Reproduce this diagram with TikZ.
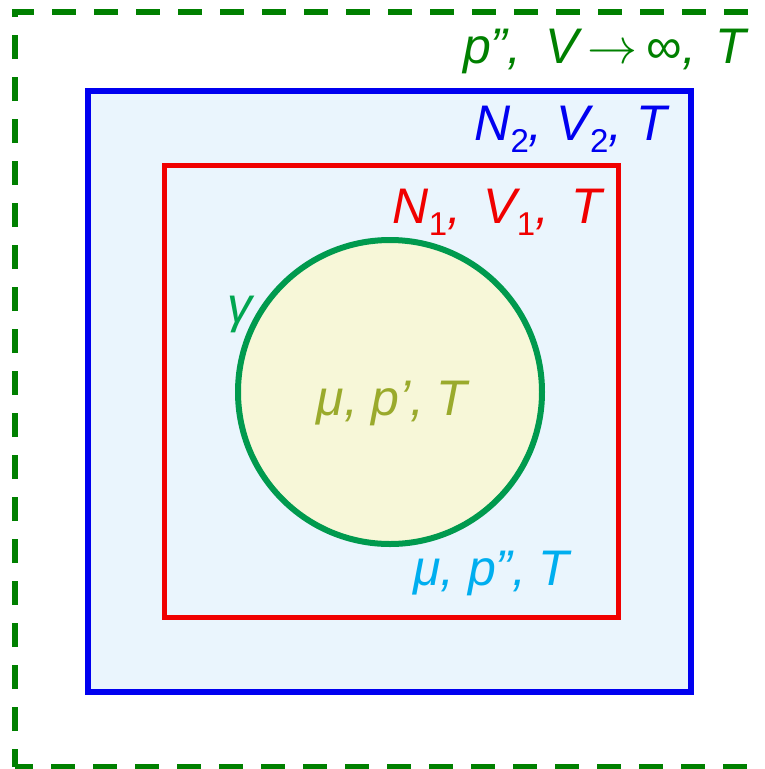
\RequirePackage{fix-cm}
\documentclass[tikz,border=0pt]{standalone}
\usepackage{fontspec}
\setmainfont{Liberation Sans}
\usetikzlibrary{positioning}

\newcommand{\lowidx}[1]{\raisebox{-12pt}{\fontsize{33}{36}\selectfont\upshape #1}}

\begin{document}
\begin{tikzpicture}[x=1pt,y=-1pt,
    lbl/.style={font=\fontsize{50}{60}\selectfont\itshape, inner sep=0pt}]
    \definecolor{bathGreen}{HTML}{008000}
    \definecolor{boxBlue}{HTML}{0000F0}
    \definecolor{boxFill}{HTML}{EAF5FD}
    \definecolor{boxRed}{HTML}{F00000}
    \definecolor{dropGreen}{HTML}{009A4E}
    \definecolor{gammaGreen}{HTML}{00A651}
    \definecolor{dropFill}{HTML}{F7F7D8}
    \definecolor{dropText}{HTML}{9AAA2C}
    \definecolor{gasText}{HTML}{00AEEF}

    \useasboundingbox (0,0) rectangle (765,769);
    % reservoir (open to the right)
    \begin{scope}
        \clip (0,0) rectangle (765,769);
        \draw[bathGreen, line width=6pt, dash pattern=on 24pt off 18pt, dash phase=6pt]
            (15,767) -- (15,12) -- (800,12);
        \draw[bathGreen, line width=6pt, dash pattern=on 24pt off 18pt, dash phase=6pt]
            (15,767) -- (800,767);
    \end{scope}
    % outer and inner boxes
    \draw[boxBlue, line width=6pt, fill=boxFill] (88,91) rectangle (691,692);
    \draw[boxRed, line width=5pt] (164,165) rectangle (618,617);
    % droplet
    \draw[dropGreen, line width=6pt, fill=dropFill] (390,392) circle (152);

    \node[lbl, bathGreen, anchor=base east] (resLbl) at (746,63)
        {p”,\hspace{24pt}V\hspace{9pt}{\upshape$\rightarrow$}\hspace{9pt}{\upshape ∞},\hspace{5pt} T};
    \node[lbl, boxBlue, anchor=base east] (outerLbl) at (667,140)
        {N\lowidx{2}, V\lowidx{2}, T};
    \node[lbl, boxRed, anchor=base east] (innerLbl) at (602,223)
        {N\lowidx{1},\, V\lowidx{1},\, T};
    \node[lbl, gammaGreen, anchor=base] (gammaLbl) at (240,322) {γ};
    \node[lbl, dropText, anchor=base] (dropLbl) at (392,415) {μ, p’,\kern-2pt{} T};
    \node[lbl, gasText, anchor=base] (gasLbl) at (491,585) {μ, p”,\kern-2pt{} T};
\end{tikzpicture}
\end{document}
